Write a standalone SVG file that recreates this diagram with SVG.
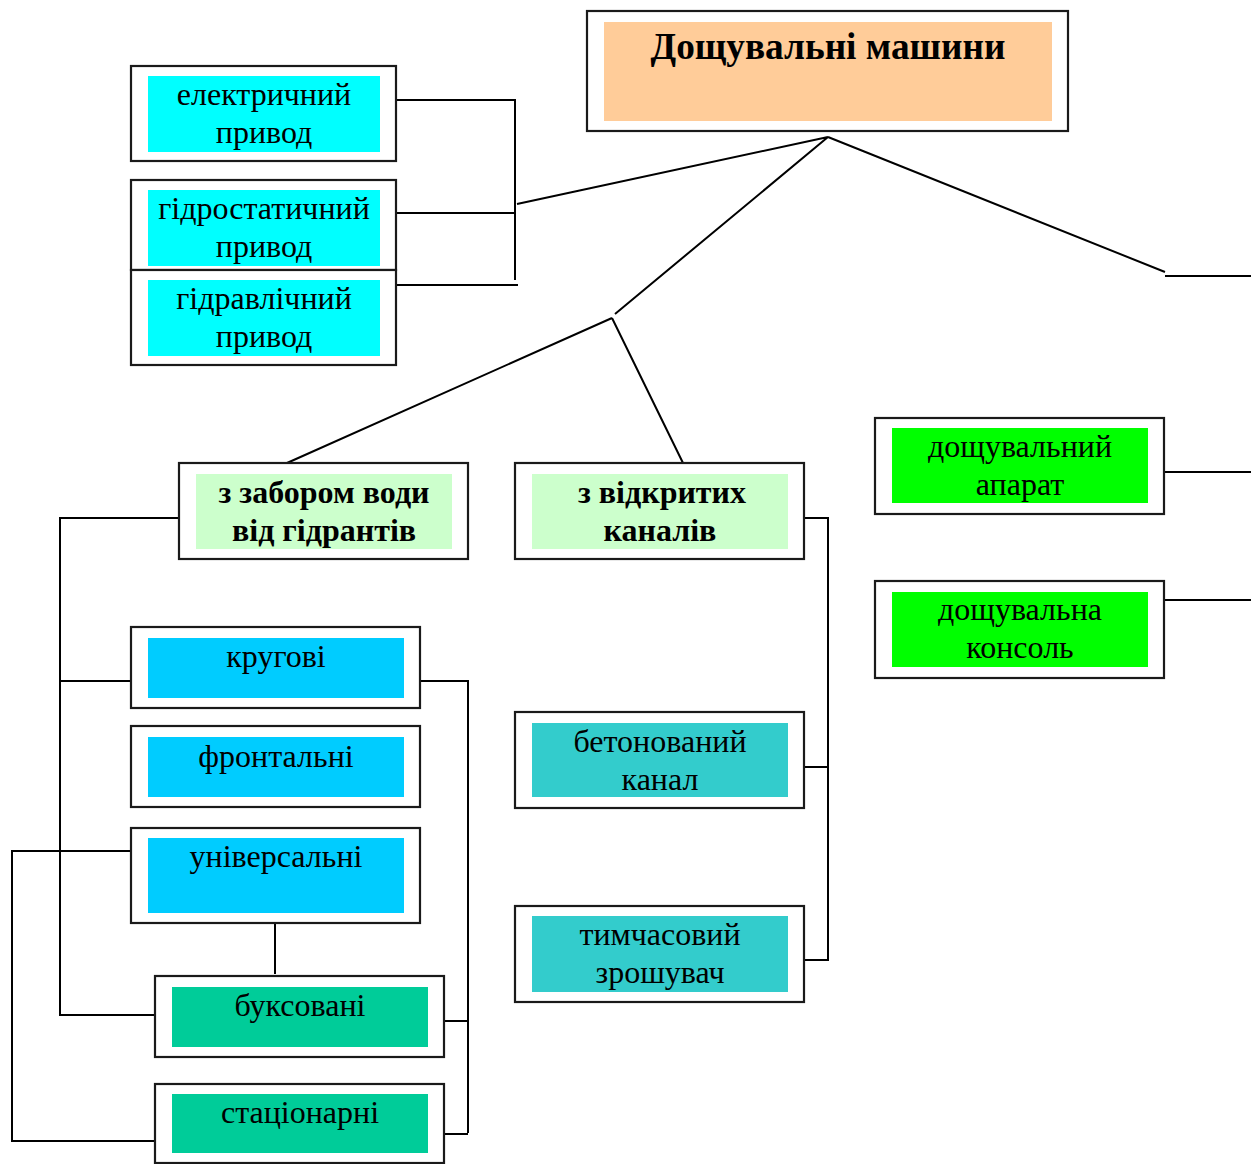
<svg xmlns="http://www.w3.org/2000/svg" width="1251" height="1164" viewBox="0 0 1251 1164">
<style>
.o{fill:#fff;stroke:#1a1a1a;stroke-width:2.2}
.t{font-family:"Liberation Serif","Times New Roman",serif;font-size:32px;fill:#000;text-anchor:middle}
.b{font-weight:bold}
.c{fill:none;stroke:#000;stroke-width:2}
</style>
<rect width="1251" height="1164" fill="#fff"/>
<g id="connectors">
<path class="c" d="M828 137L517 204M828 137L615 314M828 137L1165 272M1165 276H1251"/>
<path class="c" d="M612 318L287 463M612 318L683 463"/>
<path class="c" d="M396 100H515V280M396 213H515M396 285H518"/>
<path class="c" d="M179 518H60V1015H155M60 681H131"/>
<path class="c" d="M420 681H468V1133M444 1021H468M444 1134H468"/>
<path class="c" d="M131 851H12V1141H155"/>
<path class="c" d="M275 923V974"/>
<path class="c" d="M804 518H828V960H804M804 767H828"/>
<path class="c" d="M1164 472H1251M1164 600H1251"/>
</g>
<g id="n-main"><rect class="o" x="587" y="11" width="481" height="120"/><rect x="604" y="22" width="448" height="99" fill="#FFCC99"/><text class="t b" x="828" y="59" style="font-size:37px" textLength="355" lengthAdjust="spacingAndGlyphs">Дощувальні машини</text></g>
<g id="n-elec"><rect class="o" x="131" y="66" width="265" height="95"/><rect x="148" y="76" width="232" height="76" fill="#00FFFF"/><text class="t" x="264" y="105">електричний</text><text class="t" x="264" y="143">привод</text></g>
<g id="n-hydrostat"><rect class="o" x="131" y="180" width="265" height="90"/><rect x="148" y="190" width="232" height="76" fill="#00FFFF"/><text class="t" x="264" y="219">гідростатичний</text><text class="t" x="264" y="257">привод</text></g>
<g id="n-hydraul"><rect class="o" x="131" y="270" width="265" height="95"/><rect x="148" y="280" width="232" height="76" fill="#00FFFF"/><text class="t" x="264" y="309">гідравлічний</text><text class="t" x="264" y="347">привод</text></g>
<g id="n-hydrant"><rect class="o" x="179" y="463" width="289" height="96"/><rect x="196" y="474" width="256" height="75" fill="#CCFFCC"/><text class="t b" x="324" y="503">з забором води</text><text class="t b" x="324" y="541">від гідрантів</text></g>
<g id="n-canals"><rect class="o" x="515" y="463" width="289" height="96"/><rect x="532" y="474" width="256" height="75" fill="#CCFFCC"/><text class="t b" x="662" y="503">з відкритих</text><text class="t b" x="660" y="541">каналів</text></g>
<g id="n-circ"><rect class="o" x="131" y="627" width="289" height="81"/><rect x="148" y="638" width="256" height="60" fill="#00CCFF"/><text class="t" x="276" y="667">кругові</text></g>
<g id="n-front"><rect class="o" x="131" y="726" width="289" height="81"/><rect x="148" y="737" width="256" height="60" fill="#00CCFF"/><text class="t" x="276" y="767">фронтальні</text></g>
<g id="n-univ"><rect class="o" x="131" y="828" width="289" height="95"/><rect x="148" y="838" width="256" height="75" fill="#00CCFF"/><text class="t" x="276" y="867">універсальні</text></g>
<g id="n-towed"><rect class="o" x="155" y="976" width="289" height="81"/><rect x="172" y="987" width="256" height="60" fill="#00CC99"/><text class="t" x="300" y="1016">буксовані</text></g>
<g id="n-stat"><rect class="o" x="155" y="1084" width="289" height="79"/><rect x="172" y="1094" width="256" height="59" fill="#00CC99"/><text class="t" x="300" y="1123">стаціонарні</text></g>
<g id="n-concrete"><rect class="o" x="515" y="712" width="289" height="96"/><rect x="532" y="723" width="256" height="74" fill="#33CCCC"/><text class="t" x="660" y="752">бетонований</text><text class="t" x="660" y="790">канал</text></g>
<g id="n-temp"><rect class="o" x="515" y="906" width="289" height="96"/><rect x="532" y="916" width="256" height="76" fill="#33CCCC"/><text class="t" x="660" y="945">тимчасовий</text><text class="t" x="660" y="983">зрошувач</text></g>
<g id="n-apparatus"><rect class="o" x="875" y="418" width="289" height="96"/><rect x="892" y="428" width="256" height="75" fill="#00FF00"/><text class="t" x="1020" y="457">дощувальний</text><text class="t" x="1020" y="495">апарат</text></g>
<g id="n-console"><rect class="o" x="875" y="581" width="289" height="97"/><rect x="892" y="592" width="256" height="75" fill="#00FF00"/><text class="t" x="1020" y="620">дощувальна</text><text class="t" x="1020" y="658">консоль</text></g>
</svg>
